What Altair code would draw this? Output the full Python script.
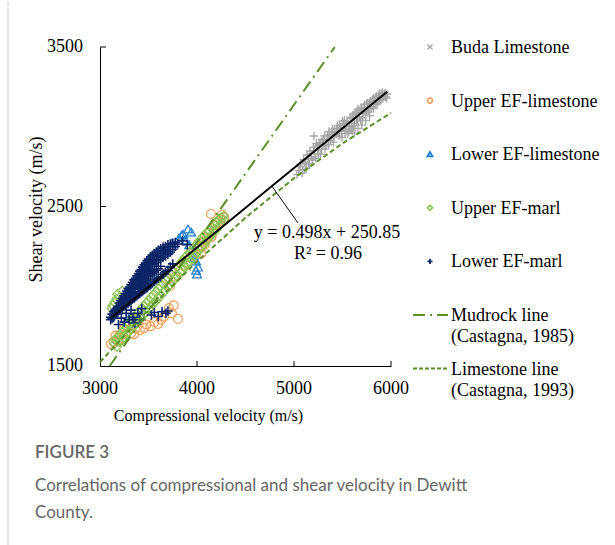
import altair as alt
import pandas as pd

# ---------------- data ----------------
buda_vp = [5050, 5070, 5090, 5100, 5120, 5135, 5150, 5165, 5180, 5200,
           5206, 5215, 5230, 5245, 5260, 5275, 5290, 5300, 5315, 5330,
           5345, 5360, 5375, 5390, 5405, 5420, 5435, 5450, 5465, 5480,
           5495, 5510, 5525, 5540, 5555, 5570, 5585, 5600, 5615, 5630,
           5645, 5660, 5675, 5690, 5705, 5720, 5735, 5750, 5765, 5780,
           5795, 5810, 5825, 5840, 5855, 5870, 5885, 5900, 5915, 5930,
           5945, 5960, 5880, 5820, 5700, 5600, 5500, 5400,
           5030, 5060, 5085, 5110, 5125, 5145, 5160, 5175, 5190, 5210,
           5225, 5240, 5255, 5270, 5285, 5305, 5320, 5340, 5355, 5370,
           5385, 5400, 5415, 5440, 5455, 5470, 5490, 5505, 5520, 5535,
           5550, 5565, 5580, 5595, 5610, 5625, 5640, 5655, 5670, 5685,
           5700, 5715, 5730, 5745, 5760, 5775, 5790, 5805, 5820, 5835,
           5850, 5865, 5880, 5895, 5910, 5925, 5940, 5955, 5620, 5660,
           5700, 5740, 5780]
buda_vs = [2726, 2766, 2731, 2796, 2771, 2823, 2771, 2848, 2811, 2871,
           2942, 2813, 2895, 2853, 2890, 2828, 2920, 2890, 2943, 2880,
           2943, 2970, 2913, 2970, 2903, 2970, 2952, 3005, 2942, 2995,
           2932, 3020, 2957, 3020, 2957, 3005, 2982, 3055, 3007, 3085,
           3037, 3110, 3062, 3120, 3057, 3119, 3102, 3144, 3092, 3144,
           3117, 3169, 3142, 3179, 3142, 3184, 3167, 3204, 3177, 3209,
           3187, 3204, 3209, 3114, 3039, 2975, 3035, 2950,
           2700, 2750, 2710, 2780, 2740, 2800, 2760, 2830, 2790, 2850,
           2800, 2880, 2830, 2900, 2860, 2915, 2860, 2920, 2890, 2950,
           2935, 2985, 2940, 2990, 2960, 3010, 2975, 2990, 3040, 2985,
           3030, 2970, 3060, 3000, 3075, 3020, 3090, 3050, 3100, 3040,
           3110, 3080, 3140, 3095, 3150, 3110, 3160, 3125, 3180, 3140,
           3190, 3155, 3195, 3170, 3215, 3190, 3210, 3180, 2960, 2990,
           3010, 3040, 3070]

uefl_vp = [3113, 3140, 3186, 3200, 3230, 3260, 3290, 3320, 3351, 3380,
           3410, 3454, 3480, 3520, 3560, 3598, 3630, 3660, 3711, 3740,
           3804, 3760, 3680, 3720, 3780, 3820, 3860, 3900, 3930, 3960,
           3990, 4010, 4041, 4060, 4080, 4100, 4120, 4150, 4175, 4190,
           4210, 4240, 4260, 4144, 4280, 4050, 4070, 3160, 3250, 3340]
uefl_vs = [1638, 1650, 1657, 1690, 1675, 1700, 1720, 1705, 1700, 1740,
           1725, 1738, 1760, 1750, 1775, 1763, 1790, 1810, 1863, 1830,
           1795, 1880, 2052, 2000, 2060, 2090, 2130, 2150, 2180, 2210,
           2200, 2240, 2202, 2280, 2260, 2300, 2330, 2310, 2350, 2380,
           2400, 2420, 2450, 2453, 2430, 2245, 2275, 1690, 1735, 1760]

lefl_vp = [3814, 3840, 3856, 3880, 3920, 3960, 3990, 3990, 4000, 4010,
           3940, 3350, 3380, 3420, 3300, 3700, 3740, 3907, 3970]
lefl_vs = [2302, 2320, 2327, 2290, 2260, 2200, 2158, 2100, 2077, 2120,
           2340, 1770, 1790, 1820, 1800, 2230, 2270, 2359, 2177]

uefm_vp = [3150, 3150, 3175, 3175, 3200, 3200, 3225, 3225, 3250, 3250,
           3275, 3275, 3300, 3300, 3325, 3325, 3350, 3350, 3375, 3375,
           3400, 3400, 3425, 3425, 3450, 3450, 3475, 3475, 3500, 3500,
           3525, 3525, 3550, 3550, 3575, 3575, 3600, 3600, 3625, 3625,
           3650, 3650, 3675, 3675, 3700, 3700, 3725, 3725, 3750, 3750,
           3775, 3775, 3800, 3800, 3825, 3825, 3850, 3850, 3875, 3875,
           3900, 3900, 3925, 3925, 3950, 3950, 3975, 3975, 4000, 4000,
           4025, 4025, 4050, 4050, 4075, 4075, 4100, 4100, 4125, 4125,
           4150, 4150, 4175, 4175, 4200, 4200, 4225, 4225, 4250, 4250,
           4275, 4275, 3130, 3150, 3180, 3200, 3230, 3260, 3290, 3120,
           3170]
uefm_vs = [1640, 1665, 1620, 1670, 1690, 1650, 1660, 1710, 1730, 1680,
           1700, 1750, 1770, 1715, 1735, 1790, 1800, 1750, 1770, 1825,
           1840, 1785, 1800, 1860, 1875, 1820, 1835, 1895, 1910, 1855,
           1870, 1930, 1945, 1890, 1905, 1965, 1985, 1925, 1940, 2000,
           2020, 1960, 1975, 2040, 2055, 1995, 2010, 2075, 2090, 2030,
           2045, 2110, 2125, 2065, 2085, 2140, 2160, 2100, 2120, 2180,
           2195, 2140, 2155, 2215, 2230, 2175, 2190, 2250, 2265, 2210,
           2230, 2285, 2300, 2245, 2265, 2320, 2335, 2285, 2300, 2350,
           2370, 2320, 2340, 2390, 2400, 2355, 2380, 2420, 2430, 2395,
           2440, 2415, 1880, 1900, 1950, 1930, 1970, 1940, 1960, 1860,
           1920]

lefm_vp = [3110, 3110, 3125, 3125, 3140, 3140, 3140, 3155, 3155, 3170,
           3170, 3170, 3185, 3185, 3200, 3200, 3200, 3215, 3215, 3215,
           3230, 3230, 3230, 3245, 3245, 3245, 3245, 3260, 3260, 3260,
           3260, 3275, 3275, 3275, 3275, 3290, 3290, 3290, 3290, 3305,
           3305, 3305, 3305, 3320, 3320, 3320, 3320, 3335, 3335, 3335,
           3335, 3350, 3350, 3350, 3350, 3365, 3365, 3365, 3365, 3380,
           3380, 3380, 3380, 3395, 3395, 3395, 3395, 3410, 3410, 3410,
           3410, 3410, 3425, 3425, 3425, 3425, 3425, 3440, 3440, 3440,
           3440, 3440, 3455, 3455, 3455, 3455, 3455, 3470, 3470, 3470,
           3470, 3470, 3485, 3485, 3485, 3485, 3485, 3500, 3500, 3500,
           3500, 3500, 3520, 3520, 3520, 3520, 3520, 3540, 3540, 3540,
           3540, 3540, 3560, 3560, 3560, 3560, 3560, 3580, 3580, 3580,
           3580, 3580, 3600, 3600, 3600, 3600, 3600, 3625, 3625, 3625,
           3625, 3625, 3650, 3650, 3650, 3650, 3675, 3675, 3675, 3675,
           3700, 3700, 3700, 3700, 3725, 3725, 3725, 3750, 3750, 3750,
           3775, 3775, 3800, 3850, 3900,
           3190, 3220, 3250, 3270, 3300, 3320, 3340, 3360, 3390, 3410,
           3430, 3530, 3560, 3600, 3640, 3680, 3700]
lefm_vs = [1790, 1805, 1800, 1825, 1815, 1840, 1805, 1825, 1850, 1830,
           1860, 1845, 1840, 1875, 1850, 1895, 1870, 1860, 1885, 1910,
           1865, 1900, 1925, 1875, 1915, 1940, 1895, 1880, 1930, 1955,
           1905, 1890, 1945, 1970, 1915, 1895, 1925, 1985, 1955, 1905,
           1940, 1995, 1965, 1910, 1955, 2010, 1980, 1920, 1965, 2025,
           1995, 1925, 1980, 2040, 2005, 1935, 1990, 2050, 2020, 1940,
           2005, 2065, 2030, 1950, 2015, 2080, 2045, 1955, 2030, 2095,
           2060, 1990, 1965, 2040, 2105, 2070, 2000, 1970, 2050, 2120,
           2085, 2015, 1980, 2065, 2135, 2100, 2025, 1985, 2075, 2145,
           2110, 2035, 1990, 2090, 2160, 2120, 2045, 2000, 2100, 2170,
           2135, 2060, 2010, 2110, 2185, 2150, 2070, 2020, 2125, 2195,
           2160, 2080, 2030, 2140, 2205, 2170, 2090, 2040, 2150, 2215,
           2185, 2100, 2050, 2160, 2225, 2195, 2110, 2060, 2170, 2235,
           2205, 2125, 2075, 2180, 2245, 2215, 2090, 2190, 2250, 2225,
           2100, 2200, 2260, 2230, 2120, 2215, 2265, 2140, 2230, 2270,
           2250, 2275, 2265, 2285, 2260,
           1760, 1800, 1775, 1830, 1790, 1850, 1805, 1770, 1830, 1790,
           1860, 1820, 1835, 1810, 1840, 1830, 1845]

# reference lines
mud_vp = [3100, 5420]
mud_vs = [1500, 3500]
lime_vp = [3000, 3500, 4000, 4500, 5000, 5500, 6000]
lime_vs = [1524, 1854, 2155, 2430, 2677, 2896, 3087]
fit_vp = [3110, 5960]
fit_vs = [1800, 3219]

leader_vp = [4773, 5041]
leader_vs = [2627, 2397]
eq_text = ["y = 0.498x + 250.85", "R\u00b2 = 0.96"]
eq_vp = [5340, 5350]
eq_vs = [2334, 2202]

x_ticks = [3000, 4000, 5000, 6000]
y_ticks = [1500, 2500, 3500]

legend_point_labels = ["Buda Limestone", "Upper EF-limestone", "Lower EF-limestone",
                       "Upper EF-marl", "Lower EF-marl"]
legend_line_labels = ["Mudrock line\n(Castagna, 1985)", "Limestone line\n(Castagna, 1993)"]
caption_title = "FIGURE 3"
caption_lines = ["Correlations of compressional and shear velocity in Dewitt", "County."]

# ---------------- styles ----------------
GRAY = "#a6a6a6"
ORANGE = "#f4a05c"
BLUE = "#1f7fd0"
GREEN = "#8cc455"
NAVY = "#0d2466"
LGREEN = "#5b8f2b"
SERIF = "Liberation Serif"
PLUS = "M-1,0L1,0M0,-1L0,1"
XMARK = "M-1,-1L1,1M-1,1L1,-1"

W, H = 291, 319

xs = alt.Scale(domain=[3000, 6000], nice=False, zero=False)
ys = alt.Scale(domain=[1500, 3500], nice=False, zero=False)

X = alt.X("vp:Q", scale=xs, axis=alt.Axis(values=x_ticks, labels=False, ticks=False,
                                          title="Compressional velocity (m/s)",
                                          titleX=108, titleY=49, titleBaseline="middle",
                                          titleAlign="center", titleFontSize=16, titleFont=SERIF))
Y = alt.Y("vs:Q", scale=ys, axis=alt.Axis(values=y_ticks, labels=False, ticks=False,
                                          title="Shear velocity (m/s)",
                                          titleX=-64, titleY=162, titleAngle=-90,
                                          titleBaseline="middle", titleAlign="center",
                                          titleFontSize=18, titleFont=SERIF))


def df(vp, vs):
    return pd.DataFrame({"vp": vp, "vs": vs})


def pts(vp, vs, shape, color, size, sw=1.2):
    return alt.Chart(df(vp, vs)).mark_point(shape=shape, filled=False, color=color,
                                            size=size, strokeWidth=sw, opacity=1).encode(x=X, y=Y)


buda = pts(buda_vp, buda_vs, PLUS, GRAY, 70, 1.3)
uefl = pts(uefl_vp, uefl_vs, "circle", ORANGE, 80)
lefl = pts(lefl_vp, lefl_vs, "triangle-up", BLUE, 80)
uefm = pts(uefm_vp, uefm_vs, "diamond", GREEN, 85)
lefm = pts(lefm_vp, lefm_vs, PLUS, NAVY, 90, 1.6)

mud = alt.Chart(df(mud_vp, mud_vs)).mark_line(color=LGREEN, strokeWidth=2,
                                               strokeDash=[12, 5, 2, 5]).encode(x=X, y=Y)
lime = alt.Chart(df(lime_vp, lime_vs)).mark_line(color=LGREEN, strokeWidth=2,
                                                 strokeDash=[5, 3]).encode(x=X, y=Y)
fit = alt.Chart(df(fit_vp, fit_vs)).mark_line(color="black", strokeWidth=2).encode(x=X, y=Y)

leader = alt.Chart(pd.DataFrame({"vp": [leader_vp[0]], "vs": [leader_vs[0]],
                                 "vp2": [leader_vp[1]], "vs2": [leader_vs[1]]})).mark_rule(
    color="black", strokeWidth=1).encode(x=X, y=Y, x2="vp2:Q", y2="vs2:Q")
eq = alt.Chart(pd.DataFrame({"vp": eq_vp, "vs": eq_vs, "t": eq_text})).mark_text(
    font=SERIF, fontSize=18, color="black", align="center", baseline="middle").encode(
    x=X, y=Y, text="t:N")

# inward ticks and tick labels
xt = alt.Chart(pd.DataFrame({"vp": x_ticks[1:]})).mark_rule(color="black").encode(
    x=X, y=alt.value(H), y2=alt.value(H - 5))
yt = alt.Chart(pd.DataFrame({"vs": y_ticks[1:]})).mark_rule(color="black").encode(
    y=Y, x=alt.value(0), x2=alt.value(6))
xl = alt.Chart(pd.DataFrame({"vp": x_ticks})).mark_text(
    font=SERIF, fontSize=18, color="black", align="center", baseline="middle").encode(
    x=X, y=alt.value(H + 23), text=alt.Text("vp:Q", format="d"))
yl = alt.Chart(pd.DataFrame({"vs": y_ticks})).mark_text(
    font=SERIF, fontSize=18, color="black", align="right", baseline="middle").encode(
    y=Y, x=alt.value(-17), text=alt.Text("vs:Q", format="d"))

data_layer = alt.layer(buda, uefl, lefl, uefm, lefm, lime, mud, fit, leader, eq, xt, yt, xl, yl)

# ---------------- legend (own row scale) ----------------
row_scale = alt.Scale(domain=[0, 6], range=[0, 321.6])
leg_pts_df = pd.DataFrame({"row": list(range(5)), "label": legend_point_labels})
LX_SYM, LX_TXT = 330, 351


def leg_sym(i, shape, color, sw=1.4, size=26):
    return alt.Chart(leg_pts_df.iloc[[i]]).mark_point(shape=shape, filled=False, color=color,
                                                       size=size, strokeWidth=sw, opacity=1).encode(
        x=alt.value(LX_SYM), y=alt.Y("row:Q", scale=row_scale, axis=None))


leg_syms = [leg_sym(0, XMARK, GRAY), leg_sym(1, "circle", ORANGE, 1.6),
            leg_sym(2, "triangle-up", BLUE, 1.8), leg_sym(3, "diamond", GREEN, 1.6),
            leg_sym(4, PLUS, NAVY, 1.8)]
leg_txt = alt.Chart(pd.DataFrame({"row": list(range(7)),
                                  "label": legend_point_labels + legend_line_labels})).mark_text(
    font=SERIF, fontSize=18, color="black", align="left", baseline="alphabetic", dy=6,
    lineBreak="\n", lineHeight=21).encode(
    x=alt.value(LX_TXT), y=alt.Y("row:Q", scale=row_scale, axis=None), text="label:N")
leg_mud = alt.Chart(pd.DataFrame({"row": [5]})).mark_rule(
    color=LGREEN, strokeWidth=2, strokeDash=[12, 5, 2, 5]).encode(
    x=alt.value(313), x2=alt.value(348), y=alt.Y("row:Q", scale=row_scale, axis=None))
leg_lime = alt.Chart(pd.DataFrame({"row": [6]})).mark_rule(
    color=LGREEN, strokeWidth=2, strokeDash=[4, 2]).encode(
    x=alt.value(313), x2=alt.value(348), y=alt.Y("row:Q", scale=row_scale, axis=None))

legend_layer = alt.layer(*leg_syms, leg_txt, leg_mud, leg_lime)

# ---------------- caption & page border ----------------
cap_df = pd.DataFrame({"row": [0, 1, 2], "t": [caption_title] + caption_lines})
cap1 = alt.Chart(cap_df.iloc[[0]]).mark_text(font="Lato", fontSize=17, fontWeight=600,
                                             color="#666666", align="left", baseline="middle").encode(
    x=alt.value(-65), y=alt.Y("row:Q", scale=alt.Scale(domain=[0, 2], range=[406, 460]), axis=None),
    text="t:N")
cap2 = alt.Chart(cap_df.iloc[[1, 2]]).mark_text(font="Lato", fontSize=17, fontWeight="normal",
                                                color="#666666", align="left", baseline="middle").encode(
    x=alt.value(-65), y=alt.Y("row:Q", scale=alt.Scale(domain=[1, 2], range=[439, 466]), axis=None),
    text="t:N")
border = alt.Chart(pd.DataFrame({"a": [0]})).mark_rule(color="#d0d0d0", strokeWidth=1).encode(
    x=alt.value(-92), y=alt.value(-46), y2=alt.value(499))

chart = alt.layer(data_layer, legend_layer, cap1, cap2, border).resolve_scale(
    y="independent").properties(
    width=W, height=H, padding={"left": 7, "top": 0, "right": 0, "bottom": 0},
    background="white"
).configure_view(stroke=None).configure_axis(
    grid=False, domainColor="black", domainWidth=1, titleFont=SERIF,
    titleColor="black", titleFontWeight="normal"
)

chart.save("out.html", embed_options={"renderer": "svg", "actions": False})
